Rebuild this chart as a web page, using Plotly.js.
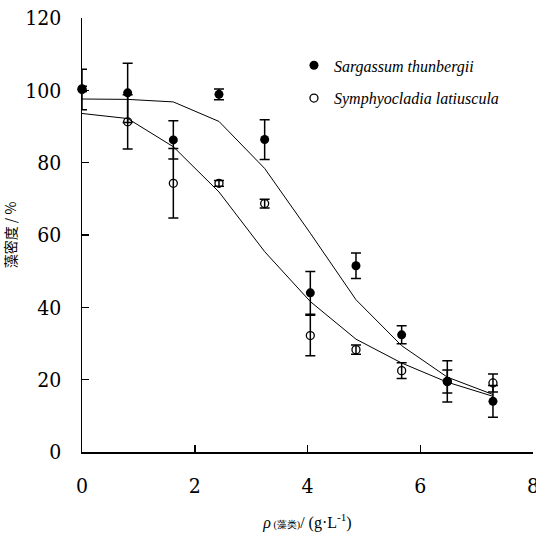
<!DOCTYPE html>
<html>
<head>
<meta charset="utf-8">
<script src="https://cdn.plot.ly/plotly-3.0.1.min.js"></script>
<style>
html,body{margin:0;padding:0;background:#fff;}
#chart{width:536px;height:536px;}
</style>
</head>
<body>
<div id="chart"></div>
<script>
// algae concentration (g/L)
const conc = [0, 0.81, 1.62, 2.43, 3.24, 4.05, 4.86, 5.67, 6.48, 7.29];

// Sargassum thunbergii: measured density (%) and SD
const sargassumVals = [100.2, 99.3, 86.3, 98.9, 86.4, 44.0, 51.5, 32.4, 19.5, 14.0];
const sargassumErr  = [5.6, 8.2, 5.3, 1.5, 5.5, 5.9, 3.5, 2.5, 5.7, 4.4];
const sargassumFit  = [97.6, 97.5, 96.8, 91.4, 78.4, 60.5, 42.1, 29.4, 20.7, 15.9];

// Symphyocladia latiuscula: measured density (%) and SD
const symphyoVals = [100.4, 91.3, 74.3, 74.3, 68.7, 32.2, 28.3, 22.5, 19.5, 19.1];
const symphyoErr  = [0.7, 7.5, 9.6, 0.8, 1.2, 5.6, 1.3, 2.2, 3.2, 2.5];
const symphyoFit  = [93.6, 92.2, 84.4, 71.9, 55.4, 41.6, 31.2, 24.6, 19.3, 15.4];

const seriesNames = ['Sargassum thunbergii', 'Symphyocladia latiuscula'];
const xTicks = [0, 2, 4, 6, 8];
const yTicks = [0, 20, 40, 60, 80, 100, 120];

const serif = 'Liberation Serif';
const tickSerif = 'DejaVu Serif Condensed';
const cjk = 'Noto Sans CJK SC';

const traces = [
  {x: conc, y: sargassumFit, mode: 'lines', line: {color: '#000', width: 1}, showlegend: false},
  {x: conc, y: symphyoFit, mode: 'lines', line: {color: '#000', width: 1}, showlegend: false},
  {x: conc, y: symphyoVals, name: '<i>' + seriesNames[1] + '</i>', legendgroup: 'b', legendrank: 2,
   mode: 'markers', cliponaxis: false,
   marker: {symbol: 'circle-open', size: 8, color: '#000', line: {width: 1.3, color: '#000'}},
   error_y: {type: 'data', array: symphyoErr, visible: true, color: '#000', thickness: 1.5, width: 5}},
  {x: conc, y: sargassumVals, name: '<i>' + seriesNames[0] + '</i>', legendgroup: 'a', legendrank: 1,
   mode: 'markers', cliponaxis: false,
   marker: {symbol: 'circle', size: 9, color: '#000'},
   error_y: {type: 'data', array: sargassumErr, visible: true, color: '#000', thickness: 1.5, width: 5}}
];

const layout = {
  width: 536, height: 536,
  margin: {l: 82, r: 3, t: 18, b: 84},
  paper_bgcolor: '#fff', plot_bgcolor: '#fff',
  font: {family: serif, color: '#000'},
  showlegend: true,
  legend: {x: 0.47, y: 0.93, xanchor: 'left', yanchor: 'top', traceorder: 'grouped',
           font: {family: serif, size: 16, color: '#000'}, bgcolor: 'rgba(0,0,0,0)',
           itemwidth: 30, tracegroupgap: 9},
  xaxis: {
    range: [0, 8], tickvals: xTicks, ticktext: xTicks.map(String),
    showgrid: false, zeroline: false, showline: true, linecolor: '#000', linewidth: 1.5,
    ticks: 'inside', ticklen: 7, tickwidth: 1.5, tickcolor: '#000',
    ticklabelstandoff: 14, ticklabeloverflow: 'allow',
    tickfont: {family: tickSerif, size: 21, color: '#000'},
    title: {text: '<i>ρ</i><span style="font-size:10px;"> (藻类)</span>/ (g·L<sup>-1</sup>)',
            font: {family: serif, size: 16, color: '#000'}, standoff: 20}
  },
  yaxis: {
    range: [0, 120], tickvals: yTicks, ticktext: yTicks.map(String),
    showgrid: false, zeroline: false, showline: true, linecolor: '#000', linewidth: 1.5,
    ticks: 'inside', ticklen: 7, tickwidth: 1.5, tickcolor: '#000',
    ticklabelstandoff: 15,
    tickfont: {family: tickSerif, size: 21, color: '#000'},
    title: {text: '藻密度 / %', font: {family: cjk, size: 14, color: '#000'}, standoff: 7}
  }
};

Plotly.newPlot('chart', traces, layout, {staticPlot: true});
</script>
</body>
</html>
